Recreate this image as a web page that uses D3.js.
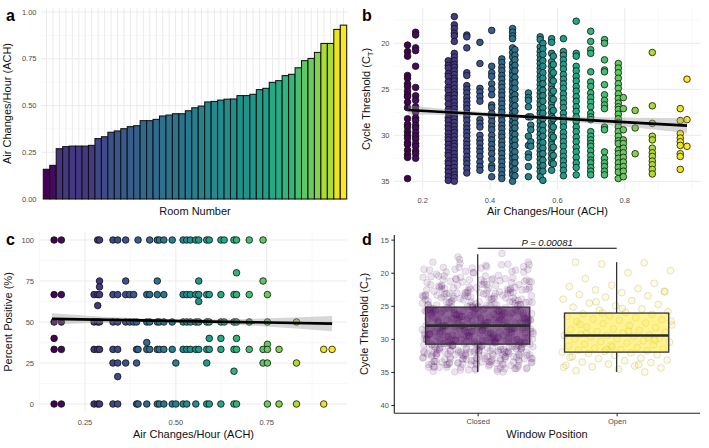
<!DOCTYPE html>
<html><head><meta charset="utf-8">
<script src="https://cdn.jsdelivr.net/npm/d3@7"></script>
<style>
body{margin:0;background:#fff;}
svg{display:block;font-family:"Liberation Sans",Arial,sans-serif;}
</style></head><body>
<svg id="chart" width="709" height="448"></svg>
<script>
// ---------- DATA ----------
// Panel a: ACH per room (sorted)
const roomAch = [0.159,0.18,0.269,0.28,0.283,0.283,0.283,0.287,0.323,0.333,0.357,0.364,0.376,0.387,0.392,0.419,0.419,0.426,0.444,0.449,0.456,0.456,0.472,0.488,0.497,0.519,0.522,0.529,0.534,0.535,0.553,0.553,0.56,0.585,0.592,0.624,0.633,0.66,0.667,0.702,0.74,0.752,0.784,0.832,0.832,0.907,0.93];
const aTicks = [0,0.25,0.5,0.75,1];

// Panel b: Ct per ACH column
const bAch = [0.155,0.179,0.276,0.294,0.331,0.370,0.405,0.435,0.467,0.474,0.514,0.521,0.549,0.557,0.583,0.588,0.618,0.656,0.699,0.740,0.781,0.796,0.831,0.882,0.965,0.985];
const bCt = [
 [20.2,20.9,21.4,23.5,23.8,24.4,24.7,25.2,25.6,25.8,26.4,27.0,28.2,28.8,29.1,29.6,30.0,30.3,30.8,31.0,31.6,32.1,32.4,34.7],
 [18.8,19.1,20.5,20.8,22.5,24.8,25.7,26.2,26.9,27.3,27.5,28.1,28.4,28.9,29.2,29.7,30.1,30.4,30.9,31.2,31.7,32.0,32.5],
 [21.9,22.4,22.7,23.3,23.6,24.2,24.8,25.1,25.7,26.0,26.6,27.2,27.5,28.1,28.4,28.9,29.3,29.8,30.2,30.5,31.0,31.4,31.9,32.2,32.8,33.1,33.6,34.0,34.5,34.9],
 [17.1,18.0,18.4,18.9,19.2,19.8,21.1,21.5,21.9,22.3,22.6,23.0,23.4,23.8,24.1,24.5,24.9,25.3,25.6,26.0,26.4,26.8,27.1,27.5,27.9,28.2,28.6,29.0,29.4,29.7,30.1,30.5,30.9,31.2,31.6,32.0,32.4,32.7,33.1,33.5,33.9,34.3,34.6,35.0],
 [19.1,19.3,20.5,23.2,23.5,24.6,25.0,25.4,25.9,26.3,26.7,27.1,27.6,28.0,28.4,28.9,29.3,29.7,30.1,30.6,31.0,31.4,31.8,32.3,32.7,33.1,33.6,34.1],
 [19.9,22.2,24.9,25.3,25.8,26.3,28.3,28.7,29.1,30.0,30.5,30.9,31.4,31.8,32.3,32.9,33.4,33.8],
 [18.6,22.5,23.2,23.6,24.4,25.0,25.6,26.7,27.0,27.6,28.0,28.5,29.0,29.4,30.0,30.5,31.0,31.5,32.0,32.6,33.3,33.6,34.5],
 [21.7,22.1,22.6,23.0,23.5,23.9,24.4,24.8,25.3,25.7,26.2,26.6,27.1,27.5,28.0,28.4,28.9,29.3,29.8,30.2,30.7,31.1,31.6,32.0,32.5,32.9,33.4,33.8,34.3,34.7],
 [18.4,18.8,19.2,19.5,20.5,21.0,21.5,22.2,22.6,23.1,23.5,24.0,24.4,24.9,25.3,25.8,26.2,26.7,27.1,27.6,28.0,28.5,28.9,29.4,29.8,30.3,30.7,31.2,31.6,32.1,32.5,33.0,33.4,33.9,34.3,35.0],
 [20.7,21.3,21.8,22.4,23.0,23.7,24.3,24.9,25.6,26.1,26.8,27.4,28.1,28.7,29.2,29.9,30.5,31.1,31.8,32.4,33.0,33.7,34.4],
 [25.4,25.9,26.2,26.9,28.0,30.1,31.1,32.0,32.4,33.4,34.5],
 [28.0,28.9,29.4,30.7,31.2],
 [19.3,19.6,20.4,20.9,21.3,21.8,22.2,22.7,23.1,23.6,24.0,24.5,24.9,25.4,25.8,26.3,26.7,27.2,27.6,28.1,28.5,29.0,29.4,29.9,30.3,30.8,31.2,31.7,32.1,32.6,33.0,33.5,33.9,34.5],
 [20.0,20.6,21.2,21.9,22.5,23.2,23.8,24.4,25.1,25.7,26.3,27.0,27.6,28.2,28.9,29.5,30.1,30.8,31.4,32.0,32.7,33.3,33.9,34.9],
 [19.5,19.9,21.1,22.0,22.5,23.0,23.5,24.0,24.5,25.0,25.5,26.0,26.5,27.0,27.5,28.0,28.5,29.0,29.5,30.0,30.5,31.0,31.5,32.0,32.5,33.0,33.8],
 [21.4,22.3,23.2,24.1,25.2,26.1,27.3,28.2,29.1,30.2,31.3,32.2,33.1],
 [19.5,20.9,21.3,21.8,22.3,22.8,23.4,23.9,24.4,24.9,25.5,26.0,26.5,27.0,27.6,28.1,28.6,29.1,29.7,30.2,30.7,31.2,31.8,32.3,32.8,33.3,33.8,34.4],
 [17.6,21.1,21.4,22.5,23.0,23.6,24.1,24.7,25.2,25.8,26.3,26.9,27.4,28.0,28.5,29.1,29.6,30.2,30.7,31.3,31.8,32.4,33.0,33.5,34.3],
 [18.7,19.8,20.7,21.1,23.1,24.2,24.7,25.4,25.9,26.4,26.9,27.6,28.0,28.3,29.6,30.1,30.5,30.9,31.2,31.7,32.2,32.7,33.0,33.5,33.9,34.3],
 [19.6,20.0,21.8,22.9,23.1,24.5,25.6,26.2,26.7,27.1,29.1,29.4,31.8,32.5,33.0,33.4,33.9,34.3],
 [22.2,22.7,23.2,23.8,24.4,24.9,25.5,26.0,26.5,26.9,27.2,27.7,28.2,28.6,29.1,29.6,30.1,30.6,30.9,31.6,32.0,32.5,33.0,33.5,34.0,34.7],
 [25.9,27.1,29.4,30.5,30.9,31.4,31.9,32.4,32.9,33.4,33.9,34.5],
 [27.3,29.2,32.0],
 [21.0,26.8,28.7,30.1,30.5,31.4,31.9,32.3,32.8,33.2,33.7,34.2],
 [27.1,28.4,29.8,30.3,30.7,31.1,32.0,32.3,33.7],
 [23.9,28.3,31.2]
];
const bXTicks = [0.2,0.4,0.6,0.8];
const bYTicks = [20,25,30,35];
const fitBx = [0.157,0.985];
const fitBy = [27.25,28.95];
const bandBx = [0.157,0.3,0.5,0.7,0.985];
const bandBhalf = [0.5,0.3,0.2,0.35,0.8];

// Panel c: percent positive per ACH column
const cAch = [0.165,0.185,0.275,0.285,0.29,0.327,0.34,0.362,0.373,0.384,0.392,0.396,0.42,0.428,0.449,0.455,0.467,0.49,0.50,0.52,0.53,0.54,0.555,0.563,0.585,0.592,0.624,0.633,0.66,0.667,0.702,0.74,0.752,0.784,0.832,0.907,0.93];
const cPct = [
 [100,66.7,50,40,33.3,0],[100,66.7,50,33.3,0],[66.7,50,33.3,0],[100,66.7,60,50,33.3,0],[100,75,71.4,66.7,50,33.3,0],
 [100,66.7,50,33.3,25,0],[100,66.7,50,33.3,25,16.7,0],[100,75,66.7,50,25],[66.7,50],[66.7,50],[50,33.3,25,0],[100,33.3,0],
 [66.7,50,37.5,33.3,0],[100,66.7,50,33.3],[100,75,66.7,50,33.3,0],[100,50,33.3,0],[100,66.7,50,33.3,0],[100,50,33.3,0],[25,0],
 [100,66.7,50,33.3,0],[100,66.7,50,33.3,0],[100,66.7,50,33.3],[100,66.7,50,33.3,0],[100,75,66.7,62.5,50,33.3],
 [100,66.7,50,33.3,25,0],[100,66.7,50,40,33.3,0],[100,66.7,50,40,33.3,0],[100,50],[100,66.7,50,33.3,20,0],
 [100,80,66.7,50,40,33.3,0],[100,66.7,50,33.3],[100,75,33.3,25],[66.7,50,36.4,33.3,25,0],[33.3,0],[50,25,0],[33.3,0],[33.3]
];
const cXTicks = [0.25,0.5,0.75];
const cYTicks = [0,25,50,75,100];
const fitCx = [0.159,0.93];
const fitCy = [51.9,49.0];
const bandCx = [0.159,0.3,0.45,0.55,0.7,0.93];
const bandChalf = [3.4,1.8,1.0,1.1,2.0,4.6];

// Panel d
const windowPos = ["Closed","Open"];
const openCt = [18.4,18.5,18.7,19.7,20.0,20.9,21.6,21.9,22.1,22.4,22.6,22.8,23.0,23.3,23.5,23.7,24.0,24.2,24.6,24.8,25.0,25.2,25.5,25.7,25.9,26.0,26.2,26.3,26.5,26.6,26.8,27.0,27.1,27.2,27.4,27.6,27.7,27.9,28.0,28.2,28.3,28.5,28.6,28.7,28.9,29.0,29.1,29.3,29.4,29.5,29.5,29.6,29.7,29.9,30.0,30.1,30.3,30.4,30.5,30.6,30.8,30.9,31.0,31.1,31.3,31.4,31.5,31.6,31.7,31.8,31.9,32.0,32.1,32.2,32.4,32.5,32.7,32.9,33.0,33.2,33.3,33.5,33.6,33.8,34.0,34.1,34.2,34.4,34.6,34.8,35.0,26.1,27.3,28.8,29.2,30.2,31.2,32.8,33.9,24.4,22.9,25.4,27.8,29.8,31.6,34.3];
const boxLow = [17.2,18.4];
const boxQ1 = [25.2,26.1];
const boxMed = [28.0,29.5];
const boxQ3 = [30.8,32.0];
const boxHigh = [35.0,35.0];
const dYTicks = [15,20,25,30,35,40];
const pLabel = "P = 0.00081";

// ---------- DRAW ----------
const svg = d3.select("#chart");
const TICK = "#4d4d4d", GRID = "#ebebeb", GRIDMINOR = "#f3f3f3";
const tickFont = 7.5, titleFont = 11;

function hGrid(g, y, vals, x0, x1, col, w){
  g.selectAll(null).data(vals).join("line")
   .attr("x1",x0).attr("x2",x1).attr("y1",d=>y(d)).attr("y2",d=>y(d))
   .attr("stroke",col).attr("stroke-width",w);
}
function vGrid(g, x, vals, y0, y1, col, w){
  g.selectAll(null).data(vals).join("line")
   .attr("y1",y0).attr("y2",y1).attr("x1",d=>x(d)).attr("x2",d=>x(d))
   .attr("stroke",col).attr("stroke-width",w);
}
function yLabels(g, y, vals, xr, fmt){
  g.selectAll(null).data(vals).join("text")
   .attr("x",xr).attr("y",d=>y(d)).attr("dy","0.35em").attr("text-anchor","end")
   .attr("font-size",tickFont).attr("fill",TICK).text(fmt);
}
function xLabels(g, x, vals, yb, fmt){
  g.selectAll(null).data(vals).join("text")
   .attr("x",d=>x(d)).attr("y",yb).attr("text-anchor","middle")
   .attr("font-size",tickFont).attr("fill",TICK).text(fmt);
}
function yTitle(cx, cy, parts){
  const t = svg.append("text").attr("transform",`translate(${cx},${cy}) rotate(-90)`)
    .attr("text-anchor","middle").attr("font-size",titleFont).attr("fill","#111");
  parts.forEach(p=>{
    const ts = t.append("tspan").text(p.t);
    if(p.sub){ ts.attr("font-size",7.5).attr("dy",2.5); }
    if(p.after){ ts.attr("dy",-2.5); }
  });
}
function xTitle(cx, yb, txt){
  svg.append("text").attr("x",cx).attr("y",yb).attr("text-anchor","middle")
    .attr("font-size",titleFont).attr("fill","#111").text(txt);
}
function panelLabel(x,y,t){
  svg.append("text").attr("x",x).attr("y",y).attr("font-size",16).attr("font-weight","bold").attr("fill","#000").text(t);
}

// ===== Panel a =====
{
  const g = svg.append("g");
  const idx = roomAch.map((d,i)=>i);
  const x = d3.scaleBand().domain(idx).range([43.3,346.7]).padding(0);
  const y = d3.scaleLinear().domain([0,1.02]).range([199,8.3]);
  const col = d3.scaleSequential(d3.interpolateViridis).domain(d3.extent(roomAch));
  hGrid(g,y,[0.125,0.375,0.625,0.875],41.7,348.3,GRIDMINOR,0.6);
  hGrid(g,y,aTicks,41.7,348.3,GRID,1);
  g.selectAll(null).data(idx).join("line")
    .attr("x1",d=>x(d)+x.bandwidth()/2).attr("x2",d=>x(d)+x.bandwidth()/2)
    .attr("y1",8.3).attr("y2",199).attr("stroke",GRID).attr("stroke-width",1);
  g.selectAll(null).data(roomAch).join("rect")
    .attr("x",(d,i)=>x(i)).attr("width",x.bandwidth())
    .attr("y",d=>y(d)).attr("height",d=>y(0)-y(d))
    .attr("fill",d=>col(d)).attr("stroke","#111").attr("stroke-width",1.05);
  yLabels(g,y,aTicks,36.5,d3.format(".2f"));
  yTitle(11,103.5,[{t:"Air Changes/Hour (ACH)"}]);
  xTitle(195,214.5,"Room Number");
  panelLabel(6,21,"a");
}

// ===== Panel b =====
{
  const g = svg.append("g");
  const x = d3.scaleLinear().domain([0.1148,1.026]).range([394,700.8]);
  const y = d3.scaleLinear().domain([16.2,35.9]).range([8.3,189.6]);
  const col = d3.scaleSequential(d3.interpolateViridis).domain(d3.extent(bAch));
  hGrid(g,y,[17.5,22.5,27.5,32.5],394,700.8,GRIDMINOR,0.6);
  vGrid(g,x,[0.3,0.5,0.7,0.9,1.0],8.3,189.6,GRIDMINOR,0.6);
  hGrid(g,y,bYTicks,394,700.8,GRID,1);
  vGrid(g,x,bXTicks,8.3,189.6,GRID,1);
  const pts = [];
  bAch.forEach((a,i)=>bCt[i].forEach(c=>pts.push({a,c})));
  g.selectAll(null).data(pts).join("circle")
    .attr("cx",d=>x(d.a)).attr("cy",d=>y(d.c)).attr("r",3.3)
    .attr("fill",d=>col(d.a)).attr("stroke","#111").attr("stroke-width",0.8);
  const band = bandBx.map((a,i)=>{
    const m = fitBy[0]+(fitBy[1]-fitBy[0])*(a-fitBx[0])/(fitBx[1]-fitBx[0]);
    return {a, lo:m-bandBhalf[i], hi:m+bandBhalf[i]};
  });
  g.append("path").datum(band)
    .attr("d",d3.area().curve(d3.curveMonotoneX).x(d=>x(d.a)).y0(d=>y(d.lo)).y1(d=>y(d.hi)))
    .attr("fill","#999").attr("fill-opacity",0.4);
  g.append("path").datum(fitBx.map((a,i)=>({a,c:fitBy[i]})))
    .attr("d",d3.line().x(d=>x(d.a)).y(d=>y(d.c)))
    .attr("stroke","#000").attr("stroke-width",2.6).attr("fill","none");
  yLabels(g,y,bYTicks,389.5,d=>d);
  xLabels(g,x,bXTicks,202.5,d3.format(".1f"));
  yTitle(370,99,[{t:"Cycle Threshold (C"},{t:"T",sub:true},{t:")",after:true}]);
  xTitle(547.4,214.5,"Air Changes/Hour (ACH)");
  panelLabel(362,21,"b");
}

// ===== Panel c =====
{
  const g = svg.append("g");
  const x = d3.scaleLinear().domain([0.1262,0.971]).range([40,347]);
  const y = d3.scaleLinear().domain([-5,105]).range([412.2,231.8]);
  const col = d3.scaleSequential(d3.interpolateViridis).domain(d3.extent(cAch));
  hGrid(g,y,[12.5,37.5,62.5,87.5],40,347,GRIDMINOR,0.6);
  vGrid(g,x,[0.125,0.375,0.625,0.875],231.8,412.2,GRIDMINOR,0.6);
  hGrid(g,y,cYTicks,40,347,GRID,1);
  vGrid(g,x,cXTicks,231.8,412.2,GRID,1);
  const pts = [];
  cAch.forEach((a,i)=>cPct[i].forEach(p=>pts.push({a,p})));
  g.selectAll(null).data(pts).join("circle")
    .attr("cx",d=>x(d.a)).attr("cy",d=>y(d.p)).attr("r",3.3)
    .attr("fill",d=>col(d.a)).attr("stroke","#111").attr("stroke-width",0.8);
  const band = bandCx.map((a,i)=>{
    const m = fitCy[0]+(fitCy[1]-fitCy[0])*(a-fitCx[0])/(fitCx[1]-fitCx[0]);
    return {a, lo:m-bandChalf[i], hi:m+bandChalf[i]};
  });
  g.append("path").datum(band)
    .attr("d",d3.area().curve(d3.curveMonotoneX).x(d=>x(d.a)).y0(d=>y(d.lo)).y1(d=>y(d.hi)))
    .attr("fill","#999").attr("fill-opacity",0.4);
  g.append("path").datum(fitCx.map((a,i)=>({a,p:fitCy[i]})))
    .attr("d",d3.line().x(d=>x(d.a)).y(d=>y(d.p)))
    .attr("stroke","#000").attr("stroke-width",2.6).attr("fill","none");
  yLabels(g,y,cYTicks,34,d=>d);
  xLabels(g,x,cXTicks,425,d3.format(".2f"));
  yTitle(12,322,[{t:"Percent Positive (%)"}]);
  xTitle(193.5,438,"Air Changes/Hour (ACH)");
  panelLabel(6,245,"c");
}

// ===== Panel d =====
{
  const g = svg.append("g");
  const x = d3.scalePoint().domain(windowPos).range([394.3,700]).padding(0.6);
  const y = d3.scaleLinear().domain([14.3,41.25]).range([235,413.3]);
  const step = x.step();
  const fills = ["#440154","#FDE725"];
  const closedCt = bCt.flat();
  const groups = [closedCt, openCt];
  const jit = i => ((i*0.6180339887 + 0.13) % 1) - 0.5;
  groups.forEach((arr,gi)=>{
    const cx = x(windowPos[gi]);
    g.selectAll(null).data(arr).join("circle")
      .attr("cx",(d,i)=>cx + jit(i)*0.8*step).attr("cy",d=>y(d)).attr("r",3.4)
      .attr("fill",fills[gi]).attr("fill-opacity",gi===0?0.1:0.16)
      .attr("stroke",gi===0?"#440154":"#7a7a40").attr("stroke-opacity",gi===0?0.13:0.25).attr("stroke-width",0.8);
  });
  windowPos.forEach((w,i)=>{
    const cx = x(w), bw = 0.75*step;
    g.append("line").attr("x1",cx).attr("x2",cx).attr("y1",y(boxLow[i])).attr("y2",y(boxQ1[i]))
      .attr("stroke","#333").attr("stroke-width",1.3);
    g.append("line").attr("x1",cx).attr("x2",cx).attr("y1",y(boxQ3[i])).attr("y2",y(boxHigh[i]))
      .attr("stroke","#333").attr("stroke-width",1.3);
    g.append("rect").attr("x",cx-bw/2).attr("width",bw).attr("y",y(boxQ1[i])).attr("height",y(boxQ3[i])-y(boxQ1[i]))
      .attr("fill",fills[i]).attr("fill-opacity",i===0?0.6:0.5).attr("stroke","#333").attr("stroke-width",1.3);
    g.append("line").attr("x1",cx-bw/2).attr("x2",cx+bw/2).attr("y1",y(boxMed[i])).attr("y2",y(boxMed[i]))
      .attr("stroke","#2a2a2a").attr("stroke-width",2.6);
  });
  // significance bar
  g.append("line").attr("x1",x("Closed")).attr("x2",x("Open")).attr("y1",248.3).attr("y2",248.3)
    .attr("stroke","#000").attr("stroke-width",1.1);
  g.append("text").attr("x",(x("Closed")+x("Open"))/2).attr("y",246).attr("text-anchor","middle")
    .attr("font-size",9.5).attr("font-style","italic").attr("fill","#111").text(pLabel);
  // axes
  const ya = g.append("g").attr("transform","translate(394.3,0)")
    .call(d3.axisLeft(y).tickValues(dYTicks).tickSize(3).tickPadding(2.5));
  ya.select(".domain").attr("stroke","#222").attr("stroke-width",1.1).attr("d","M0,235V413.3");
  ya.selectAll(".tick line").attr("stroke","#222");
  ya.selectAll(".tick text").attr("font-size",tickFont).attr("fill",TICK).attr("font-family",null);
  const xa = g.append("g").attr("transform","translate(0,413.3)")
    .call(d3.axisBottom(x).tickSize(3).tickPadding(2.5));
  xa.select(".domain").attr("stroke","#222").attr("stroke-width",1.1).attr("d","M394.3,0H700");
  xa.selectAll(".tick line").attr("stroke","#222");
  xa.selectAll(".tick text").attr("font-size",tickFont).attr("fill",TICK).attr("font-family",null);
  yTitle(368,324,[{t:"Cycle Threshold (C"},{t:"T",sub:true},{t:")",after:true}]);
  xTitle(547,438,"Window Position");
  panelLabel(362,245,"d");
}
</script>
</body></html>
